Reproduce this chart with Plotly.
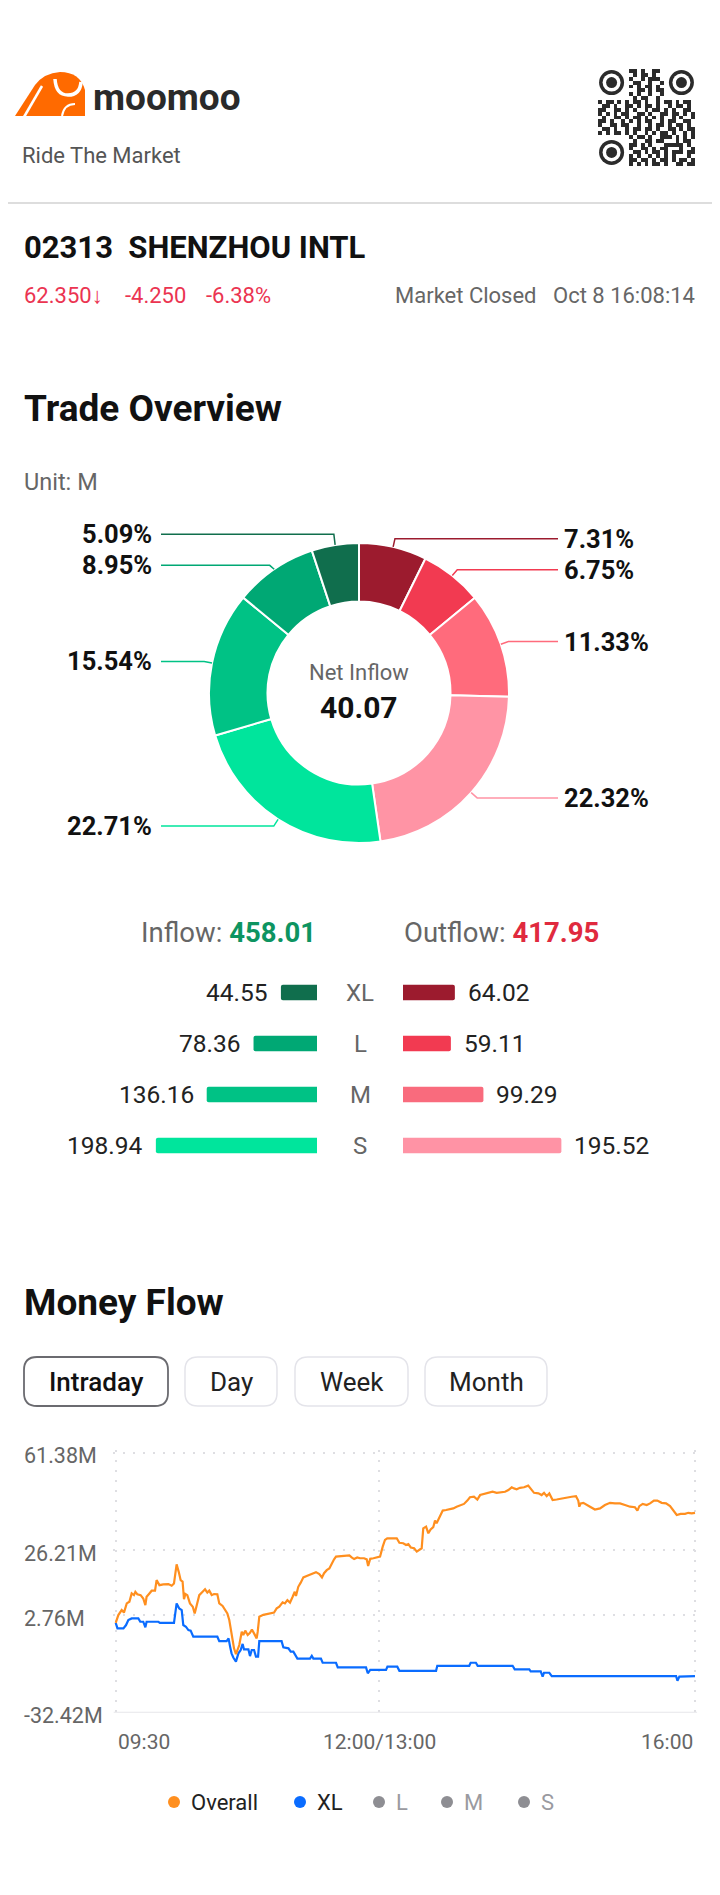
import math
import plotly.graph_objects as go

W, H = 720, 1895
OFF = 8  # the page body margin shifts the figure by 8px; compensate
FONT = "Roboto"

# ---------------- data ----------------
pie_labels = ["XL Outflow", "L Outflow", "M Outflow", "S Outflow",
              "S Inflow", "M Inflow", "L Inflow", "XL Inflow"]
pie_values = [64.02, 59.11, 99.29, 195.52, 198.94, 136.16, 78.36, 44.55]
pie_pct_text = ["7.31%", "6.75%", "11.33%", "22.32%", "22.71%", "15.54%", "8.95%", "5.09%"]
pie_colors = ["#9c1b2e", "#f23a51", "#ff6b7c", "#ff94a5",
              "#00e59c", "#00c285", "#00a874", "#106e4d"]

categories = ["XL", "L", "M", "S"]
inflow_values = [44.55, 78.36, 136.16, 198.94]
outflow_values = [64.02, 59.11, 99.29, 195.52]
inflow_colors = ["#106e4d", "#00a874", "#00c285", "#00e59c"]
outflow_colors = ["#9c1b2e", "#f23a51", "#f96b7d", "#ff93a5"]
inflow_total = "458.01"
outflow_total = "417.95"
net_inflow = "40.07"

overall_minutes = [
    0, 1.5, 3.4, 4.7, 6.3, 7.8, 9.1, 10.4, 11.2, 12.3,
    14.2, 15.7, 16.9, 17.6, 19.2, 20.5, 22.4, 23.3, 24.9, 27.1,
    30, 31.9, 33.2, 34.7, 35.9, 37, 38.1, 38.9, 39.7, 40.8,
    42.3, 43.9, 45, 46.1, 47.6, 49.5, 50.9, 52.2, 53.3, 54.7,
    56, 57.9, 59, 60.9, 62.3, 63.6, 64.7, 65.5, 66.6, 67.4,
    68.5, 69.3, 70.4, 71.8, 72.7, 73.8, 75.2, 76.5, 77.6, 78.8,
    80.3, 80.9, 81.8, 84.1, 87.0, 90.2, 91.7, 93.2, 95.1, 96.4,
    97.8, 99.3, 100.8, 102, 102.7, 104, 105.4, 106.9, 108.8, 110.7,
    112.6, 114.1, 116, 117.5, 118.7, 120.2, 121.7, 123, 124.4, 125.5,
    127.8, 130.6, 133.1, 134.4, 135.8, 137.6, 139.2, 141.5, 143, 143.8,
    145, 146.8, 148.7, 150.6, 152.1, 153.4, 154.7, 157.2, 160.1, 161.6,
    163.8, 165.4, 166.7, 168.1, 170, 171.5, 173.3, 174.3, 175.2, 176.8,
    178.1, 179.4, 180.9, 181.9, 182.8, 184.4, 186.3, 188.2, 190.1, 192.3,
    194.2, 196.1, 198.4, 200.3, 201.8, 204.1, 206, 207.6, 209.8, 212.3,
    214.7, 217, 219.3, 221.8, 223.7, 225.6, 226.9, 228.4, 230.3, 232.6,
    235, 236.4, 238.3, 240.8, 242.6, 244, 245.5, 247, 248.9, 251.2,
    254.0, 256.9, 259.7, 262.2, 263.5, 264.1, 264.9, 266.4, 268.3, 270.2,
    273.0, 275.9, 278.7, 281.6, 284.4, 287.3, 290.1, 293, 295.8, 297.2,
    298.3, 300.2, 302.5, 304.4, 306.6, 308.5, 311.0, 313.5, 315.8, 317.7,
    319.6, 321.8, 324.3, 326.2, 328.1, 330]
overall_values = [
    0.0, 2.8, 4.6, 3.7, 7.0, 7.6, 10.6, 10.0, 11.2, 10.3,
    10.0, 8.8, 6.4, 9.4, 10.6, 11.6, 11.6, 15.4, 13.6, 13.9,
    14.0, 13.4, 14.2, 21.1, 18.4, 15.4, 14.9, 8.5, 10.4, 10.0,
    7.0, 5.8, 3.4, 6.4, 10.0, 11.2, 12.1, 10.9, 11.6, 10.0,
    10.4, 10.3, 7.0, 6.1, 4.4, 3.4, 1.0, -2.0, -6.8, -9.2,
    -11.3, -9.6, -8.0, -3.2, -4.4, -2.8, -4.4, -3.6, -2.4, -3.8,
    -5.6, -3.2, 2.2, 2.9, 3.2, 3.7, 5.2, 5.8, 7.4, 7.0,
    8.2, 7.3, 9.4, 11.2, 9.7, 13.0, 14.5, 16.4, 16.9, 17.3,
    17.9, 18.3, 17.6, 16.4, 17.9, 19.0, 19.6, 21.4, 22.9, 23.9,
    24.1, 24.2, 24.3, 23.6, 23.0, 23.6, 23.3, 23.3, 22.9, 20.5,
    23.1, 23.3, 23.5, 23.9, 27.5, 29.9, 30.5, 30.4, 30.5, 28.9,
    28.7, 28.1, 28.4, 27.2, 26.9, 25.7, 26.3, 26.9, 34.1, 34.7,
    32.3, 33.7, 34.5, 36.9, 35.9, 38.1, 40.5, 40.7, 40.9, 41.3,
    41.9, 42.3, 42.9, 44.1, 45.3, 45.5, 44.5, 46.1, 46.5, 46.9,
    47.3, 46.9, 47.1, 47.3, 47.9, 48.9, 48.5, 48.2, 48.7, 48.9,
    49.5, 48.2, 46.9, 46.7, 46.1, 46.9, 45.7, 46.7, 44.3, 44.5,
    44.9, 45.3, 45.5, 45.7, 44.1, 41.9, 43.1, 43.3, 42.5, 41.9,
    40.9, 41.3, 42.5, 43.3, 43.1, 43.1, 42.5, 41.9, 41.7, 40.5,
    42.1, 42.9, 42.5, 43.1, 44.1, 44.1, 43.3, 43.1, 42.1, 40.7,
    38.9, 39.3, 39.3, 39.7, 39.5, 39.7]

xl_minutes = [
    0, 1, 4.4, 5.9, 7.2, 9.1, 12.9, 14.0, 15.7, 16.9,
    17.6, 24.3, 25.2, 33.2, 34.7, 36.2, 37.6, 38.5, 40.0, 41.4,
    42.7, 44.2, 57.9, 59, 63.2, 64.3, 65.1, 66.0, 67.0, 68.5,
    69.9, 71.2, 72.3, 73.1, 75.6, 76.5, 77.5, 78.8, 79.9, 81.1,
    81.8, 94.5, 95.5, 98.4, 99.7, 101.2, 103.5, 110.7, 111.7, 112.6,
    116.9, 117.9, 125.5, 126.5, 142.6, 143.6, 145, 154.0, 154.8, 160.4,
    161.6, 182.5, 183.2, 201.4, 202.2, 205.2, 206.2, 226.1, 227.3, 235.6,
    236.4, 242.1, 243.2, 244.0, 247.0, 248.4, 319.2, 320, 321.1, 330]
xl_values = [
    0.0, -2.0, -2.0, -0.8, 1.0, 1.6, 1.6, 0.4, 0.4, -1.6,
    0.4, 0.4, 0.0, 0.0, 7.0, 5.2, 4.6, -0.8, -1.4, -2.6,
    -2.8, -5.0, -5.0, -6.6, -6.6, -5.6, -8.4, -11.0, -12.5, -14.0,
    -11.0, -9.8, -7.6, -9.6, -9.6, -12.0, -9.8, -9.8, -12.2, -12.2,
    -6.6, -6.6, -8.8, -9.2, -10.4, -10.4, -12.9, -12.9, -11.9, -12.9,
    -12.9, -14.4, -14.4, -16.1, -16.1, -18.2, -17.0, -17.0, -15.8, -15.8,
    -17.3, -17.3, -15.5, -15.5, -14.4, -14.4, -15.5, -15.5, -16.8, -16.8,
    -17.5, -17.5, -19.4, -18.0, -18.0, -19.2, -19.2, -20.9, -19.4, -19.2]

y_ticks = [61.38, 26.21, 2.76, -32.42]
y_tick_text = ["61.38M", "26.21M", "2.76M", "-32.42M"]
x_ticks = [0, 150, 330]
x_tick_text = ["09:30", "12:00/13:00", "16:00"]

legend_names = ["Overall", "XL", "L", "M", "S"]
legend_colors = ["#ff8f1f", "#0a6cff", "#8e8e93", "#8e8e93", "#8e8e93"]
legend_text_colors = ["#222222", "#222222", "#9a9aa0", "#9a9aa0", "#9a9aa0"]

buttons = ["Intraday", "Day", "Week", "Month"]

qr_rows = [
    "........##.#..##.........",
    ".........#.##.#..........",
    "........#..#.###.........",
    ".........##..#..#........",
    "........#.#.##.#.........",
    "..........##.#.##........",
    "........#.#..#..#........",
    ".........#.##..#.........",
    "#.##.#.#.##.#..#.##.#.##.",
    ".##.#..##.#.##.#..#.##.#.",
    "##..##.#.#..#.##.#.#..##.",
    "#.#.#.##..##.#..##.##.#.#",
    ".#..##.#.##.#.#.#..#.#..#",
    "##.#..#.#.#.##..#.##..##.",
    "#..##.##..#..#.##.#.##.#.",
    ".##.#..#.##.##.#..##.#.##",
    "#.#.##.#.#..#.#.##.#..#.#",
    "........#.##.#..###.#.#.#",
    ".........#..##.##...#.##.",
    "........##.#.#...#####.#.",
    "........#..##.#.##...#..#",
    ".........##.#.##.#.###.##",
    "........#.#..#.#.#.#...#.",
    "........##.##.#.##.#.##.#",
    "........#.#.#.##.#..##.##",
]


# ---------------- helpers ----------------
def px(x):
    return (x - OFF) / W


def py(y):
    return 1 - (y - OFF) / H


def P(x, y):
    return f"{px(x):.6f},{py(y):.6f}"


annotations = []
shapes = []


def txt(x, y, s, size, color="#222222", anchor="left", weight="normal",
        xref="paper", yref="paper", yshift=0, pad=1):
    annotations.append(dict(
        x=px(x) if xref == "paper" else x,
        y=py(y) if yref == "paper" else y,
        xref=xref, yref=yref, text=s, showarrow=False, borderpad=pad,
        xanchor=anchor, yanchor="middle", yshift=yshift,
        font=dict(family=FONT, size=size, color=color, weight=weight)))


def circle(cx, cy, r, color):
    shapes.append(dict(type="circle", xref="paper", yref="paper",
                       x0=px(cx - r), x1=px(cx + r), y0=py(cy + r), y1=py(cy - r),
                       fillcolor=color, line=dict(width=0)))


def rrect(x0, y0, x1, y1, r):
    return (f"M {P(x0 + r, y0)} L {P(x1 - r, y0)} Q {P(x1, y0)} {P(x1, y0 + r)} "
            f"L {P(x1, y1 - r)} Q {P(x1, y1)} {P(x1 - r, y1)} "
            f"L {P(x0 + r, y1)} Q {P(x0, y1)} {P(x0, y1 - r)} "
            f"L {P(x0, y0 + r)} Q {P(x0, y0)} {P(x0 + r, y0)} Z")


fig = go.Figure()

# ---------------- header ----------------
# logo mark (stylised bull)
shapes.append(dict(type="path", xref="paper", yref="paper",
                   path=f"M {P(15,116)} L {P(35,85)} Q {P(44,73)} {P(60,72)} "
                        f"Q {P(80,72)} {P(85,90)} L {P(85,116)} Z",
                   fillcolor="#ff6a00", line=dict(width=0)))
shapes.append(dict(type="path", xref="paper", yref="paper",
                   path=f"M {P(24,117)} L {P(42,86)}",
                   line=dict(color="white", width=2.5)))
shapes.append(dict(type="path", xref="paper", yref="paper",
                   path=f"M {P(55,79)} Q {P(56,95)} {P(68,95)} Q {P(80,95)} {P(81,82)}",
                   line=dict(color="white", width=3.5)))
shapes.append(dict(type="path", xref="paper", yref="paper",
                   path=f"M {P(62,116)} Q {P(64,104)} {P(75,104)}",
                   line=dict(color="white", width=2)))
txt(91, 97, "moomoo", 37, "#2a2a2a", weight="bold")
txt(20, 155, "Ride The Market", 22, "#555555")

# QR code
fig.add_trace(go.Heatmap(
    z=[[1 if ch == "#" else 0 for ch in row] for row in qr_rows],
    colorscale=[[0, "white"], [1, "#2b2b2b"]], zmin=0, zmax=1,
    showscale=False, hoverinfo="skip", xaxis="x4", yaxis="y4"))
qx0, qy0, qsz = 598, 69, 97
mod = qsz / 25
for (cr, cc) in [(3, 3), (3, 21), (21, 3)]:
    cx = qx0 + (cc + 0.5) * mod
    cy = qy0 + (cr + 0.5) * mod
    circle(cx, cy, 12.5, "#2b2b2b")
    circle(cx, cy, 9, "white")
    circle(cx, cy, 5.5, "#2b2b2b")

shapes.append(dict(type="line", xref="paper", yref="paper",
                   x0=0, x1=1, y0=py(203), y1=py(203),
                   line=dict(color="#d2d2d2", width=1.5)))

txt(22, 247, "02313  SHENZHOU INTL", 31, "#111111", weight="bold")
RED = "#eb3451"
txt(22, 296, "62.350<b>↓</b>", 22, RED)
txt(123, 296, "-4.250", 22, RED)
txt(204, 296, "-6.38%", 22, RED)
txt(539, 296, "Market Closed", 22, "#666666", anchor="right")
txt(697, 296, "Oct 8 16:08:14", 22, "#666666", anchor="right")

# ---------------- trade overview ----------------
txt(22, 409, "Trade Overview", 37, "#111111", weight="bold")
txt(22, 482, "Unit: M", 23.5, "#666666")

CX, CY, R = 359, 693, 150
fig.add_trace(go.Pie(
    labels=pie_labels, values=pie_values, sort=False, direction="clockwise",
    rotation=0, hole=0.61, textinfo="none", hoverinfo="skip",
    marker=dict(colors=pie_colors, line=dict(color="white", width=2)),
    domain=dict(x=[px(CX - R), px(CX + R)], y=[py(CY + R), py(CY - R)]),
    showlegend=False))

total = sum(pie_values)
cum = 0.0
label_info = []
for v, lab, col in zip(pie_values, pie_pct_text, pie_colors):
    mid = (cum + v / 2) / total * 2 * math.pi
    cum += v
    sx, sy = CX + R * math.sin(mid), CY - R * math.cos(mid)
    ex, ey = CX + (R + 8) * math.sin(mid), CY - (R + 8) * math.cos(mid)
    label_info.append(dict(sx=sx, sy=sy, ex=ex, ey=ey, lab=lab, col=col,
                           right=math.sin(mid) > 0))

# keep labels on each side at least MIN_GAP apart (push pairs apart symmetrically)
MIN_GAP = 31
for side in (True, False):
    items = sorted([d for d in label_info if d["right"] == side], key=lambda d: d["ey"])
    for a, b in zip(items, items[1:]):
        gap = b["ey"] - a["ey"]
        if gap < MIN_GAP:
            shift = (MIN_GAP - gap) / 2
            a["ey"] -= shift
            b["ey"] += shift

for d in label_info:
    hx = 558 if d["right"] else 161
    shapes.append(dict(type="path", xref="paper", yref="paper",
                       path=f"M {P(d['sx'], d['sy'])} L {P(d['ex'], d['ey'])} L {P(hx, d['ey'])}",
                       line=dict(color=d["col"], width=1.5)))
    if d["right"]:
        txt(563, d["ey"], d["lab"], 25.5, "#111111", anchor="left", weight="bold", pad=0)
    else:
        txt(153, d["ey"], d["lab"], 25.5, "#111111", anchor="right", weight="bold", pad=0)

txt(CX, 673, "Net Inflow", 22, "#666666", anchor="center")
txt(CX, 707, net_inflow, 30, "#111111", anchor="center", weight="bold")

# inflow / outflow header
txt(318, 932, f"Inflow: <b><span style='color:#0d9461'>{inflow_total}</span></b>",
    27.5, "#666666", anchor="right")
txt(402, 932, f"Outflow: <b><span style='color:#e02a3e'>{outflow_total}</span></b>",
    27.5, "#666666", anchor="left")

fig.add_trace(go.Bar(x=inflow_values, y=categories, orientation="h",
                     marker=dict(color=inflow_colors, cornerradius=2, line=dict(width=0)),
                     width=0.3, xaxis="x2", yaxis="y2", hoverinfo="skip", showlegend=False))
fig.add_trace(go.Bar(x=outflow_values, y=categories, orientation="h",
                     marker=dict(color=outflow_colors, cornerradius=2, line=dict(width=0)),
                     width=0.3, xaxis="x3", yaxis="y3", hoverinfo="skip", showlegend=False))
for c, vi, vo in zip(categories, inflow_values, outflow_values):
    annotations.append(dict(x=vi, y=c, xref="x2", yref="y2", text=f"{vi:.2f}",
                            showarrow=False, xanchor="right", xshift=-11,
                            font=dict(family=FONT, size=24.5, color="#222222")))
    annotations.append(dict(x=vo, y=c, xref="x3", yref="y3", text=f"{vo:.2f}",
                            showarrow=False, xanchor="left", xshift=11,
                            font=dict(family=FONT, size=24.5, color="#222222")))
    annotations.append(dict(x=px(360), y=c, xref="paper", yref="y2", text=c,
                            showarrow=False, xanchor="center",
                            font=dict(family=FONT, size=24, color="#666666")))

# ---------------- money flow ----------------
txt(22, 1302, "Money Flow", 37, "#111111", weight="bold")
btn_boxes = [(24, 168), (185, 277), (295, 408), (425, 547)]
for i, (name, (bx0, bx1)) in enumerate(zip(buttons, btn_boxes)):
    sel = i == 0
    shapes.append(dict(type="path", xref="paper", yref="paper",
                       path=rrect(bx0, 1357, bx1, 1406, 13),
                       line=dict(color="#6b6b70" if sel else "#e4e4ea", width=1.8 if sel else 1.5),
                       fillcolor="rgba(0,0,0,0)"))
    txt((bx0 + bx1) / 2, 1382, name, 26, "#111111" if sel else "#222222",
        anchor="center", weight=500 if sel else "normal")

fig.add_trace(go.Scatter(x=xl_minutes, y=xl_values, mode="lines",
                         line=dict(color="#0a6cff", width=2.2), hoverinfo="skip",
                         showlegend=False, xaxis="x", yaxis="y"))
fig.add_trace(go.Scatter(x=overall_minutes, y=overall_values, mode="lines",
                         line=dict(color="#ff8f1f", width=2.2), hoverinfo="skip",
                         showlegend=False, xaxis="x", yaxis="y"))

for v, t in zip(y_ticks, y_tick_text):
    annotations.append(dict(x=px(22), y=v, xref="paper", yref="y", text=t,
                            showarrow=False, xanchor="left", yanchor="middle", yshift=-3,
                            font=dict(family=FONT, size=21.5, color="#666666")))
for v, t, a in zip(x_ticks, x_tick_text, ["left", "center", "right"]):
    annotations.append(dict(x=v, y=py(1742), xref="x", yref="paper", text=t,
                            showarrow=False, xanchor=a, yanchor="middle",
                            font=dict(family=FONT, size=21, color="#666666")))

# legend
leg_dot_x = [174, 300, 379, 447, 524]
for name, dc, tc, dx in zip(legend_names, legend_colors, legend_text_colors, leg_dot_x):
    circle(dx, 1802, 6, dc)
    txt(dx + 15, 1802, name, 22, tc)

# axes geometry (chart)
PL, PR, PT, PB = 115.7, 695.0, 1452.7, 1712.7
xmin, xmax = 0, 330
ymin, ymax = -32.42, 61.38
ppx = (PR - PL) / (xmax - xmin)
ppy = (PB - PT) / (ymax - ymin)
xpad, ypad = 1.3, 0.8
GRID = "#dedee2"

fig.update_layout(
    width=W, height=H, margin=dict(l=0, r=0, t=0, b=0),
    paper_bgcolor="white", plot_bgcolor="white", showlegend=False,
    font=dict(family=FONT),
    xaxis=dict(domain=[px(PL - xpad * ppx), px(PR + xpad * ppx)],
               range=[xmin - xpad, xmax + xpad], tickvals=x_ticks, showticklabels=False,
               showgrid=True, gridcolor=GRID, gridwidth=2, griddash="2px,8px",
               zeroline=False, showline=False, ticks="", fixedrange=True),
    yaxis=dict(domain=[py(PB), py(PT - ypad * ppy)], range=[ymin, ymax + ypad],
               tickvals=y_ticks[:3], showticklabels=False,
               showgrid=True, gridcolor=GRID, gridwidth=2, griddash="2px,8px",
               zeroline=False, showline=False, ticks="", fixedrange=True),
    xaxis2=dict(domain=[px(317 - 202.5), px(317)], range=[250, 0], visible=False,
                anchor="y2", fixedrange=True),
    yaxis2=dict(domain=[py(1171), py(967)], type="category", categoryorder="array",
                categoryarray=categories, autorange="reversed", visible=False,
                anchor="x2", fixedrange=True),
    xaxis3=dict(domain=[px(403), px(403 + 202.5)], range=[0, 250], visible=False,
                anchor="y3", fixedrange=True),
    yaxis3=dict(domain=[py(1171), py(967)], type="category", categoryorder="array",
                categoryarray=categories, autorange="reversed", visible=False,
                anchor="x3", fixedrange=True),
    xaxis4=dict(domain=[px(qx0), px(qx0 + qsz)], range=[-0.5, 24.5], visible=False,
                anchor="y4", fixedrange=True),
    yaxis4=dict(domain=[py(qy0 + qsz), py(qy0)], range=[24.5, -0.5], visible=False,
                anchor="x4", fixedrange=True),
    annotations=annotations,
    shapes=shapes + [dict(type="line", xref="x", yref="y", x0=xmin - xpad, x1=xmax + xpad,
                          y0=ymin, y1=ymin, line=dict(color="#e6e6ea", width=2))],
)

fig.write_html("out.html", config={"displayModeBar": False})
